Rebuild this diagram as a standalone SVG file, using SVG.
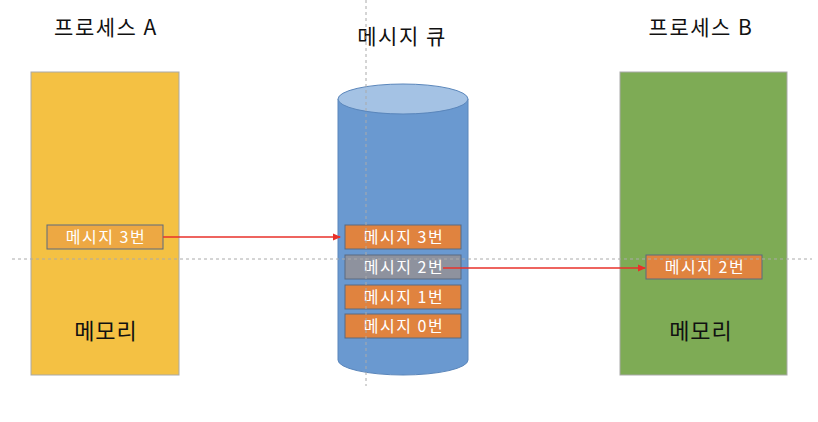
<svg xmlns="http://www.w3.org/2000/svg" width="818" height="422" viewBox="0 0 818 422">
<defs>
<style>
.title{font-family:"Noto Sans CJK KR","Noto Sans",sans-serif;font-size:21px;letter-spacing:1.5px;fill:#111;text-anchor:middle}
.mem{font-family:"Noto Sans CJK KR","Noto Sans",sans-serif;font-size:22px;letter-spacing:1px;fill:#111;text-anchor:middle}
.msg{font-family:"Noto Sans CJK KR","Noto Sans",sans-serif;font-size:16px;letter-spacing:1.5px;fill:#fff;text-anchor:middle}
.box{stroke:#5a6a80;stroke-width:1}
.guide{stroke:#aaa;stroke-width:1;stroke-dasharray:3 3;fill:none}
.conn{stroke:#e8302a;stroke-width:1.5;fill:none;marker-end:url(#ah)}
</style>
<marker id="ah" markerWidth="8" markerHeight="8" refX="7" refY="4" orient="auto" markerUnits="userSpaceOnUse">
<path d="M0,0.5 L8,4 L0,7.5 z" fill="#e8302a"/>
</marker>
</defs>
<rect width="818" height="422" fill="#fff"/>
<g id="processA">
<rect x="31" y="72" width="148" height="303" fill="#F4C143" stroke="#a9a9a9"/>
<text class="title" x="106" y="35">프로세스 A</text>
<text class="mem" x="106" y="339">메모리</text>
</g>
<g id="processB">
<rect x="620" y="72" width="167" height="303" fill="#7EAB55" stroke="#a9a9a9"/>
<text class="title" x="701" y="35">프로세스 B</text>
<text class="mem" x="701" y="339">메모리</text>
</g>
<g id="queue">
<path d="M338,99 L338,360 A65,15 0 0 0 468,360 L468,99 Z" fill="#6A99D0" stroke="#5a86bb"/>
<ellipse cx="403" cy="99" rx="65" ry="15" fill="#A4C2E4" stroke="#5a86bb"/>
<text class="title" x="402" y="44">메시지 큐</text>
</g>
<g id="q3"><rect class="box" x="345" y="225" width="116" height="24" fill="#E0833F"/><text class="msg" x="404" y="243">메시지 3번</text></g>
<g id="q2"><rect class="box" x="345" y="255" width="116" height="24" fill="#8E929E"/><text class="msg" x="404" y="273">메시지 2번</text></g>
<g id="q1"><rect class="box" x="345" y="285" width="116" height="24" fill="#E0833F"/><text class="msg" x="404" y="303">메시지 1번</text></g>
<g id="q0"><rect class="box" x="345" y="314" width="116" height="24" fill="#E0833F"/><text class="msg" x="404" y="332">메시지 0번</text></g>
<g id="a3"><rect class="box" x="47" y="225" width="116" height="24" fill="#EDA843"/><text class="msg" x="106" y="243">메시지 3번</text></g>
<g id="b2"><rect class="box" x="646" y="255" width="116" height="24" fill="#E0833F"/><text class="msg" x="705" y="273">메시지 2번</text></g>
<g id="guides">
<line class="guide" x1="366" y1="0" x2="366" y2="386"/>
<line class="guide" x1="12" y1="259" x2="812" y2="259"/>
</g>
<g id="connectors">
<line class="conn" x1="163" y1="237" x2="340" y2="237"/>
<line class="conn" x1="443" y1="268" x2="645" y2="268"/>
</g>
</svg>
